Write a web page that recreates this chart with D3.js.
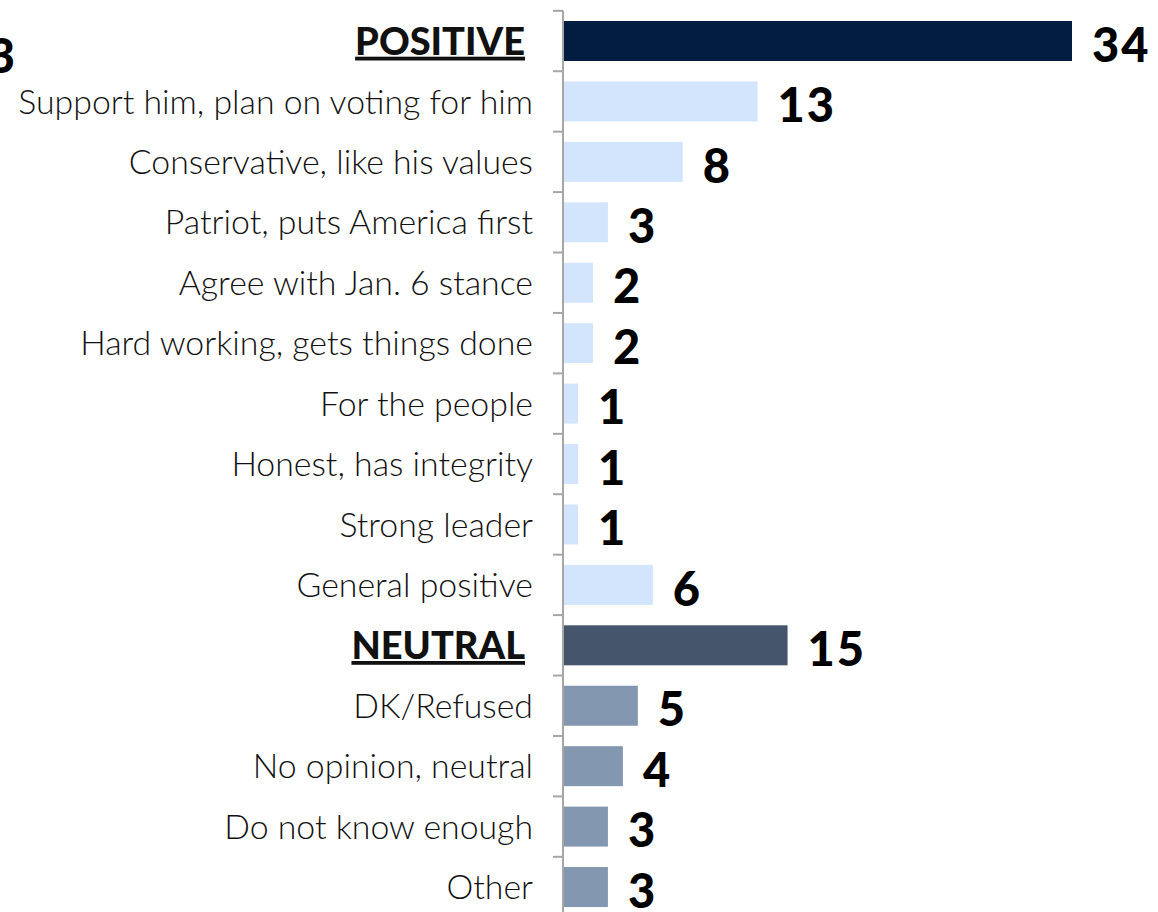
<!DOCTYPE html>
<html>
<head>
<meta charset="utf-8">
<script src="https://cdn.jsdelivr.net/npm/d3@7"></script>
<style>
html,body{margin:0;padding:0;background:#fff;overflow:hidden;}
svg{display:block;}
</style>
</head>
<body>
<svg id="chart" width="1158" height="912"></svg>
<script>
const categories = ["POSITIVE","Support him, plan on voting for him","Conservative, like his values","Patriot, puts America first","Agree with Jan. 6 stance","Hard working, gets things done","For the people","Honest, has integrity","Strong leader","General positive","NEUTRAL","DK/Refused","No opinion, neutral","Do not know enough","Other"];
const values = [34,13,8,3,2,2,1,1,1,6,15,5,4,3,3];
const groups = ["posHead","pos","pos","pos","pos","pos","pos","pos","pos","pos","neuHead","neu","neu","neu","neu"];
const strayLabel = "3";

const colors = {posHead:"#021D3F", pos:"#D3E5FC", neuHead:"#45556B", neu:"#8497B0"};
const svg = d3.select("#chart");
const axisX = 563;
const x = d3.scaleLinear().domain([0,34]).range([axisX, 1072]);
const y = d3.scaleBand().domain(categories).range([10.8, 10.8 + 15*60.43]).paddingInner(0.338).paddingOuter(0.169);

// bars
svg.selectAll("rect.bar").data(categories).join("rect")
  .attr("class","bar")
  .attr("x", x(0))
  .attr("y", d => y(d))
  .attr("width", (d,i) => x(values[i]) - x(0))
  .attr("height", y.bandwidth())
  .attr("fill", (d,i) => colors[groups[i]]);

// axis line and ticks at band boundaries
const step = y.step();
const boundaries = d3.range(categories.length + 1).map(i => y.range()[0] + i*step);
svg.append("line").attr("x1",axisX).attr("x2",axisX)
  .attr("y1",boundaries[0]).attr("y2",912)
  .attr("stroke","#A6A6A6").attr("stroke-width",2);
svg.selectAll("line.tick").data(boundaries).join("line")
  .attr("class","tick")
  .attr("x1",axisX-10).attr("x2",axisX)
  .attr("y1",d=>d).attr("y2",d=>d)
  .attr("stroke","#A6A6A6").attr("stroke-width",2);

// category labels
const catFont = "'Lato', 'Noto Sans', sans-serif";
const labels = svg.selectAll("text.cat").data(categories).join("text")
  .attr("class","cat")
  .attr("x", (d,i) => groups[i].endsWith("Head") ? 525 : 533)
  .attr("y", d => y(d) + y.bandwidth()/2)
  .attr("dy","0.36em")
  .attr("text-anchor","end")
  .attr("fill","#111")
  .style("font-family", catFont)
  .style("font-size", (d,i) => groups[i].endsWith("Head") ? "37px" : "29px")
  .style("font-weight", (d,i) => groups[i].endsWith("Head") ? "900" : "300")
  .style("text-decoration", (d,i) => groups[i].endsWith("Head") ? "underline" : "none")
  .text(d => d);

// fit the longest label width to the reference width
const longest = labels.filter((d,i)=>i===1).node();
const w = longest.getComputedTextLength();
const scaleF = 515 / w;
labels.filter((d,i)=>!groups[i].endsWith("Head")).style("font-size", (29*scaleF) + "px");
const head = labels.filter((d,i)=>i===0).node();
const hw = head.getComputedTextLength();
const hScale = 170 / hw;
labels.filter((d,i)=>groups[i].endsWith("Head")).style("font-size", (37*hScale) + "px");

// value labels
const valFont = "'Lato', 'Noto Sans', sans-serif";
svg.selectAll("text.val").data(categories).join("text")
  .attr("class","val")
  .attr("x", (d,i) => x(values[i]) + 20)
  .attr("y", d => y(d) + y.bandwidth()/2)
  .attr("dy","0.44em")
  .attr("fill","#000")
  .style("font-family", valFont)
  .style("font-size","47px")
  .style("font-weight","900")
  .style("letter-spacing","2px")
  .text((d,i) => values[i]);

// stray cropped label at left edge
svg.append("text")
  .attr("x", 15).attr("y", 73)
  .attr("text-anchor","end")
  .attr("fill","#000")
  .style("font-family", valFont)
  .style("font-size","47px")
  .style("font-weight","900")
  .text(strayLabel);
</script>
</body>
</html>
